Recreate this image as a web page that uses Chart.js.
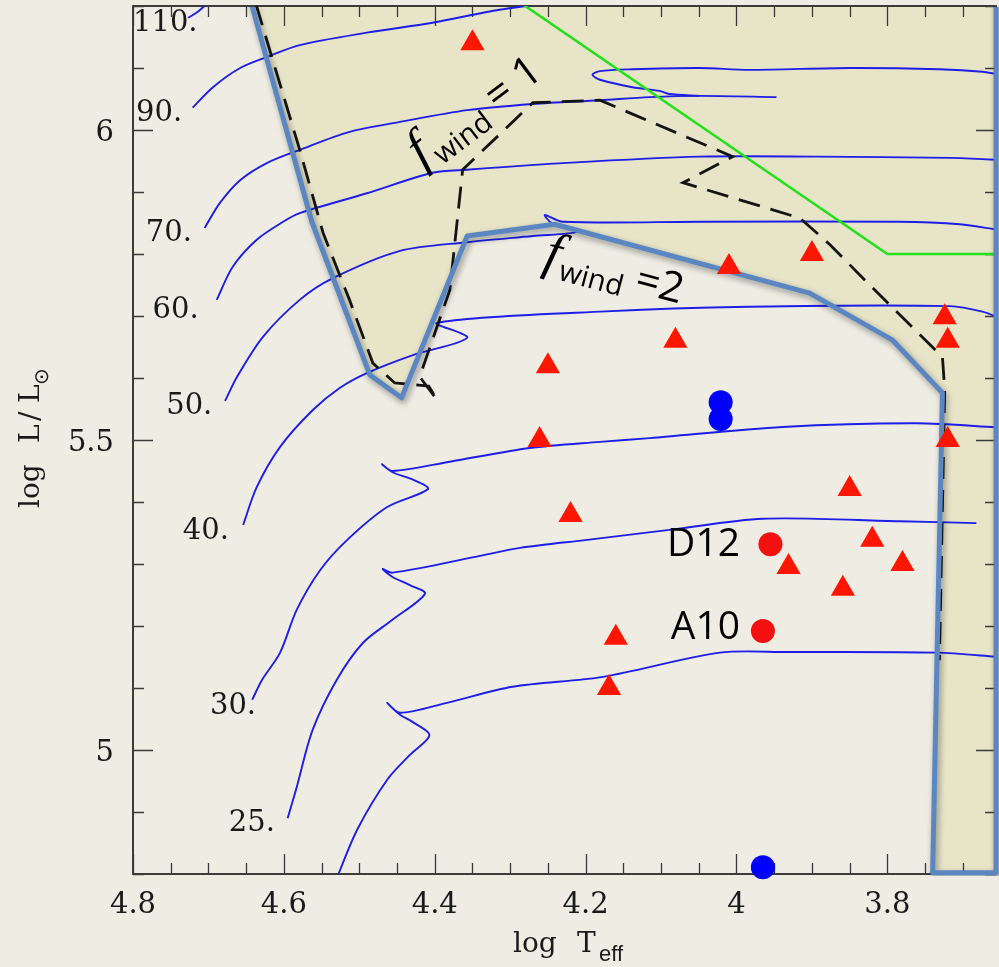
<!DOCTYPE html>
<html>
<head>
<meta charset="utf-8">
<script src="https://cdn.jsdelivr.net/npm/chart.js@4.4.0/dist/chart.umd.min.js"></script>
<style>
  html, body { margin: 0; padding: 0; background: #eeece3; overflow: hidden; }
  #wrap { width: 999px; height: 967px; }
</style>
</head>
<body>
<div id="wrap"><canvas id="hrd" width="999" height="967"></canvas></div>
<script>
// axis ranges (log Teff runs backwards)
const xMin = 3.656, xMax = 4.8, yMin = 4.8, yMax = 6.2;

const xTicks = [4.8, 4.6, 4.4, 4.2, 4.0, 3.8];
const xTickLabels = ['4.8', '4.6', '4.4', '4.2', '4', '3.8'];
const yTicks = [5.0, 5.5, 6.0];
const yTickLabels = ['5', '5.5', '6'];

// evolutionary tracks, [log Teff, log L]
const track110 = [[4.727, 6.181], [4.716, 6.189], [4.705, 6.200], [4.695, 6.208]];
const track90 = [[4.721, 6.036], [4.694, 6.069], [4.658, 6.100], [4.622, 6.118], [4.579, 6.137],
  [4.490, 6.157], [4.403, 6.173], [4.314, 6.194], [4.234, 6.207]];
const track70 = [[4.705, 5.842], [4.685, 5.882], [4.658, 5.919], [4.622, 5.947], [4.579, 5.968],
  [4.513, 5.997], [4.446, 6.013], [4.357, 6.032], [4.270, 6.042], [4.181, 6.048], [4.115, 6.053],
  [4.049, 6.055], [3.947, 6.053]];
const track70b = [[4.049, 6.055], [4.089, 6.058], [4.102, 6.063], [4.138, 6.069], [4.181, 6.081],
  [4.191, 6.089], [4.181, 6.095], [4.138, 6.098], [4.049, 6.100], [3.983, 6.097], [3.850, 6.100],
  [3.731, 6.098], [3.674, 6.094], [3.650, 6.089]];
const track60 = [[4.689, 5.726], [4.668, 5.779], [4.636, 5.823], [4.601, 5.852], [4.579, 5.866],
  [4.490, 5.898], [4.403, 5.931], [4.357, 5.936], [4.225, 5.947], [4.049, 5.957], [3.894, 5.957],
  [3.717, 5.955], [3.658, 5.952], [3.650, 5.950]];
const track50 = [[4.678, 5.563], [4.662, 5.602], [4.628, 5.666], [4.579, 5.726], [4.535, 5.761],
  [4.446, 5.805], [4.357, 5.819], [4.270, 5.829], [4.212, 5.836], [4.245, 5.850], [4.254, 5.863],
  [4.230, 5.852], [4.049, 5.852], [3.784, 5.852], [3.704, 5.848], [3.658, 5.840], [3.650, 5.838]];
const track40 = [[4.654, 5.363], [4.636, 5.424], [4.605, 5.489], [4.562, 5.548], [4.526, 5.584],
  [4.490, 5.608], [4.429, 5.637], [4.357, 5.665], [4.397, 5.689], [4.181, 5.707], [3.983, 5.715],
  [3.717, 5.716], [3.674, 5.707], [3.650, 5.696]];
const track30 = [[4.642, 5.081], [4.629, 5.113], [4.605, 5.157], [4.583, 5.226], [4.552, 5.290],
  [4.516, 5.339], [4.463, 5.392], [4.409, 5.421], [4.429, 5.436], [4.456, 5.448], [4.470, 5.461],
  [4.456, 5.450], [4.380, 5.465], [4.274, 5.487], [4.181, 5.497], [4.115, 5.503], [3.939, 5.521],
  [3.761, 5.527], [3.650, 5.520]];
const track25 = [[4.595, 4.890], [4.583, 4.940], [4.562, 5.032], [4.530, 5.113], [4.495, 5.173],
  [4.456, 5.210], [4.413, 5.252], [4.433, 5.266], [4.456, 5.279], [4.469, 5.292], [4.456, 5.286],
  [4.340, 5.313], [4.287, 5.326], [4.198, 5.339], [4.089, 5.355], [3.965, 5.373], [3.784, 5.369],
  [3.682, 5.366]];
const track20 = [[4.531, 4.790], [4.503, 4.871], [4.463, 4.952], [4.433, 4.992], [4.407, 5.024],
  [4.429, 5.045], [4.446, 5.057], [4.463, 5.076], [4.446, 5.060], [4.384, 5.076], [4.297, 5.102],
  [4.177, 5.118], [4.022, 5.157], [3.933, 5.158], [3.735, 5.157], [3.650, 5.150]];

// f_wind = 2 region, f_wind = 1 boundary, green limit
const fwind2Region = [[4.649, 6.230], [4.563, 5.852], [4.486, 5.605], [4.444, 5.568], [4.357, 5.829],
  [4.241, 5.848], [3.903, 5.737], [3.793, 5.661], [3.727, 5.576], [3.740, 4.802], [3.656, 4.802],
  [3.656, 6.230], [4.649, 6.230]];
const fwind1Line = [[4.637, 6.203], [4.579, 5.968], [4.548, 5.834], [4.513, 5.726], [4.482, 5.624],
  [4.453, 5.592], [4.408, 5.587], [4.397, 5.565], [4.420, 5.602], [4.380, 5.742], [4.363, 5.936],
  [4.270, 6.044], [4.181, 6.048], [4.005, 5.957], [4.071, 5.915], [3.916, 5.858], [3.876, 5.815],
  [3.830, 5.758], [3.797, 5.718], [3.727, 5.634], [3.724, 5.581], [3.731, 5.145]];
const greenLine = [[4.304, 6.220], [3.800, 5.800], [3.650, 5.800]];

// observed stars
const triT = [4.350, 4.010, 3.900, 3.724, 3.720, 4.081, 4.250, 4.261, 4.220, 3.720, 3.850, 3.820,
  3.931, 3.780, 3.859, 4.160, 4.169];
const triL = [6.140, 5.779, 5.800, 5.698, 5.660, 5.660, 5.619, 5.500, 5.379, 5.500, 5.421, 5.339,
  5.295, 5.300, 5.260, 5.181, 5.100];
const redT = [3.955, 3.965];
const redL = [5.332, 5.192];
const redNames = ['D12', 'A10'];
const blueT = [4.021, 4.021, 3.965];
const blueL = [5.561, 5.534, 4.811];

// mass labels at the start of each track
const massLabels = ['110.', '90.', '70.', '60.', '50.', '40.', '30.', '25.'];
const massLabelT = [4.800, 4.796, 4.783, 4.774, 4.756, 4.734, 4.698, 4.673];
const massLabelL = [6.160, 6.015, 5.821, 5.697, 5.542, 5.340, 5.058, 4.869];

const toXY = list => list.map(p => ({ x: p[0], y: p[1] }));
const zipXY = (ts, ls) => ts.map((t, i) => ({ x: t, y: ls[i] }));

const SERIF = '"DejaVu Serif", serif';
const SANS = '"Open Sans", "Noto Sans", sans-serif';

function trackSet(label, pts) {
  return {
    label: label, data: toXY(pts), showLine: true, borderColor: '#1e1ee6', borderWidth: 1.9,
    pointRadius: 0, pointHoverRadius: 0, tension: 0.3, fill: false, order: 5
  };
}

function drawFwind(ctx, px, py, angle, tail, sub) {
  ctx.save();
  ctx.translate(px, py);
  ctx.rotate(angle * Math.PI / 180);
  ctx.fillStyle = '#000';
  ctx.textAlign = 'left';
  ctx.textBaseline = 'alphabetic';
  ctx.font = 'italic 54px "Liberation Serif", serif';
  ctx.fillText('f', 0, 0);
  let w = ctx.measureText('f').width + 3;
  ctx.font = '29px ' + SANS;
  ctx.fillText('wind', w, sub);
  w += ctx.measureText('wind').width;
  ctx.font = '42px ' + SANS;
  ctx.fillText(tail, w, 0);
  ctx.restore();
}

const frame = {
  id: 'frame',
  beforeDatasetsDraw(chart) {
    const { ctx, chartArea: a, scales: { x, y } } = chart;
    ctx.save();
    ctx.strokeStyle = '#111';
    ctx.lineWidth = 1.6;
    ctx.strokeRect(a.left, a.top, a.right - a.left, a.bottom - a.top);
    ctx.strokeStyle = '#3a3a3a';
    ctx.lineWidth = 1.3;
    ctx.beginPath();
    for (let i = 0; i <= 23; i++) {
      const v = 4.8 - i * 0.05;
      if (v < xMin) break;
      const px = Math.round(x.getPixelForValue(v)) + 0.5;
      const len = i % 4 === 0 ? 20 : 11;
      ctx.moveTo(px, a.bottom); ctx.lineTo(px, a.bottom - len);
      ctx.moveTo(px, a.top); ctx.lineTo(px, a.top + len);
    }
    for (let i = 0; i <= 14; i++) {
      const v = 4.8 + i * 0.1;
      const py = Math.round(y.getPixelForValue(v)) + 0.5;
      const len = (i === 2 || i === 7 || i === 12) ? 20 : 11;
      ctx.moveTo(a.left, py); ctx.lineTo(a.left + len, py);
      ctx.moveTo(a.right, py); ctx.lineTo(a.right - len, py);
    }
    ctx.stroke();
    ctx.restore();
  },
  beforeDatasetDraw(chart, args) {
    if (args.meta.label === 'fwind2') {
      const ctx = chart.ctx;
      ctx.save();
      ctx.shadowColor = 'rgba(0, 0, 0, 0.4)';
      ctx.shadowBlur = 6;
      ctx.shadowOffsetX = 2;
      ctx.shadowOffsetY = 3;
    }
  },
  afterDatasetDraw(chart, args) {
    if (args.meta.label === 'fwind2') chart.ctx.restore();
  },
  afterDraw(chart) {
    const { ctx, scales: { x, y } } = chart;
    ctx.save();
    ctx.fillStyle = '#1a1a1a';
    ctx.textBaseline = 'alphabetic';

    ctx.font = '29px ' + SERIF;
    ctx.textAlign = 'center';
    xTicks.forEach((v, i) => ctx.fillText(xTickLabels[i], x.getPixelForValue(v), 913));
    ctx.textAlign = 'right';
    yTicks.forEach((v, i) => ctx.fillText(yTickLabels[i], 114, y.getPixelForValue(v) + 11));

    ctx.textAlign = 'left';
    ctx.font = '29px ' + SERIF;
    massLabels.forEach((s, i) => {
      ctx.fillText(s, x.getPixelForValue(massLabelT[i]), y.getPixelForValue(massLabelL[i]));
    });

    // x title: log T_eff
    ctx.font = '28px ' + SERIF;
    ctx.fillText('log', 513, 952);
    ctx.fillText('T', 577, 952);
    ctx.font = '22px "Liberation Sans", sans-serif';
    ctx.fillText('eff', 599, 961);

    // y title: log L/L_sun, reading upward
    ctx.save();
    ctx.translate(39, 508);
    ctx.rotate(-Math.PI / 2);
    ctx.font = '28px ' + SERIF;
    ctx.fillText('log', 0, 0);
    ctx.fillText('L', 65, 0);
    ctx.fillText('/', 87, 0);
    ctx.fillText('L', 105, 0);
    ctx.font = '20px "DejaVu Sans", sans-serif';
    ctx.fillText('\u2299', 123, 9);
    ctx.restore();

    // names of the two red stars
    ctx.fillStyle = '#000';
    ctx.font = '39px ' + SANS;
    ctx.textAlign = 'right';
    const nameBase = [556, 639];
    redNames.forEach((s, i) => ctx.fillText(s, 740, nameBase[i]));

    drawFwind(ctx, x.getPixelForValue(4.4169), y.getPixelForValue(5.9387), -37, ' = 1', 10);
    drawFwind(ctx, x.getPixelForValue(4.2578), y.getPixelForValue(5.7790), 15, ' =2', 8);
    ctx.restore();
  }
};

const datasets = [
  { label: 'stars', data: zipXY(triT, triL), pointStyle: 'triangle', pointRadius: 14,
    backgroundColor: '#ff1600', borderWidth: 0, showLine: false, order: 0 },
  { label: 'named', data: zipXY(redT, redL), pointStyle: 'circle', pointRadius: 12,
    backgroundColor: '#f40f10', borderWidth: 0, showLine: false, order: 0 },
  { label: 'blue', data: zipXY(blueT, blueL), pointStyle: 'circle', pointRadius: 12,
    backgroundColor: '#0000ff', borderWidth: 0, showLine: false, clip: false, order: 0 },
  { label: 'fwind2', data: toXY(fwind2Region), showLine: true, borderColor: '#5a87c2', borderWidth: 5,
    backgroundColor: '#e7e4c8', fill: 'shape', pointRadius: 0, tension: 0, borderJoinStyle: 'round',
    clip: { left: 0, top: -1, right: 5, bottom: 2 }, order: 2 },
  { label: 'green', data: toXY(greenLine), showLine: true, borderColor: '#22e01a', borderWidth: 2.5,
    pointRadius: 0, tension: 0, fill: false, order: 3 },
  { label: 'fwind1', data: toXY(fwind1Line), showLine: true, borderColor: '#141414', borderWidth: 2.8,
    borderDash: [22, 11], pointRadius: 0, tension: 0, fill: false, order: 3 },
  trackSet('110', track110),
  trackSet('90', track90),
  trackSet('70', track70),
  trackSet('70b', track70b),
  trackSet('60', track60),
  trackSet('50', track50),
  trackSet('40', track40),
  trackSet('30', track30),
  trackSet('25', track25),
  trackSet('20', track20)
];

new Chart(document.getElementById('hrd'), {
  type: 'scatter',
  data: { datasets: datasets },
  options: {
    responsive: false,
    animation: false,
    events: [],
    devicePixelRatio: 1,
    layout: { autoPadding: false, padding: { left: 133, top: 6, right: 3, bottom: 93 } },
    scales: {
      x: { type: 'linear', min: xMin, max: xMax, reverse: true, display: false },
      y: { type: 'linear', min: yMin, max: yMax, display: false }
    },
    plugins: {
      legend: { display: false },
      tooltip: { enabled: false },
      filler: { propagate: false, drawTime: 'beforeDatasetsDraw' }
    }
  },
  plugins: [frame]
});
</script>
</body>
</html>
